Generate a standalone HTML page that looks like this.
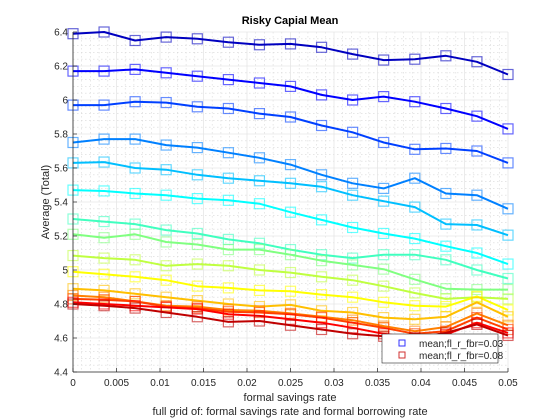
<!DOCTYPE html>
<html><head><meta charset="utf-8"><style>
body{margin:0;background:#fff;}
svg{display:block;font-family:"Liberation Sans",sans-serif;}
</style></head><body>
<svg id="chart" width="560" height="420" viewBox="0 0 560 420">
<rect x="0" y="0" width="560" height="420" fill="#fff"/>
<g id="grid"></g>
<g id="series"></g>
<g id="axes"></g>
<text x="290" y="24" text-anchor="middle" font-size="11" font-weight="bold" fill="#000">Risky Capial Mean</text>
<text x="290" y="401" text-anchor="middle" font-size="11" fill="#262626">formal savings rate</text>
<text x="290" y="415" text-anchor="middle" font-size="11" fill="#262626">full grid of: formal savings rate and formal borrowing rate</text>
<text x="49" y="202" text-anchor="middle" font-size="11" fill="#262626" transform="rotate(-90 49 202)">Average (Total)</text>
<g>
<rect x="382" y="334" width="116" height="29" fill="#fff" stroke="#262626" stroke-width="0.6"/>
<rect x="399" y="340" width="6" height="6" fill="none" stroke="#3333ff"/>
<text x="419" y="347" font-size="10" fill="#262626">mean;fl_r_fbr=0.03</text>
<rect x="399" y="352" width="6" height="6" fill="none" stroke="#d23232"/>
<text x="419" y="359" font-size="10" fill="#262626">mean;fl_r_fbr=0.08</text>
</g>
</svg>
<script>
const xValues=[0,0.00357,0.00714,0.01071,0.01429,0.01786,0.02143,0.025,0.02857,0.03214,0.03571,0.03929,0.04286,0.04643,0.05];
const s1=[6.39,6.40,6.35,6.37,6.36,6.34,6.325,6.33,6.31,6.27,6.235,6.24,6.26,6.225,6.15];
const s2=[6.17,6.17,6.18,6.16,6.14,6.12,6.10,6.08,6.03,6.00,6.02,5.99,5.95,5.905,5.83];
const s3=[5.97,5.97,5.99,5.985,5.96,5.95,5.92,5.90,5.85,5.81,5.75,5.71,5.715,5.70,5.63];
const s4=[5.75,5.77,5.77,5.735,5.72,5.69,5.66,5.62,5.56,5.51,5.48,5.54,5.45,5.44,5.36];
const s5=[5.63,5.635,5.60,5.59,5.56,5.54,5.525,5.51,5.49,5.44,5.405,5.37,5.27,5.265,5.205];
const s6=[5.47,5.465,5.45,5.44,5.42,5.41,5.39,5.34,5.295,5.25,5.215,5.185,5.14,5.10,5.035];
const s7=[5.30,5.285,5.27,5.235,5.215,5.18,5.157,5.12,5.09,5.07,5.09,5.09,5.06,5.00,4.95];
const s8=[5.21,5.19,5.21,5.165,5.15,5.12,5.12,5.09,5.055,5.03,5.005,4.945,4.89,4.885,4.885];
const s9=[5.085,5.07,5.06,5.025,5.035,5.025,5.0,4.985,4.96,4.94,4.905,4.865,4.83,4.84,4.83];
const s10=[4.99,4.975,4.96,4.94,4.905,4.895,4.88,4.875,4.855,4.84,4.81,4.79,4.785,4.845,4.765];
const s11=[4.89,4.88,4.86,4.84,4.82,4.80,4.785,4.795,4.76,4.75,4.72,4.71,4.725,4.81,4.725];
const s12=[4.85,4.84,4.815,4.79,4.785,4.765,4.76,4.745,4.725,4.705,4.67,4.64,4.665,4.745,4.675];
const s13=[4.83,4.825,4.815,4.785,4.775,4.755,4.75,4.74,4.72,4.69,4.66,4.625,4.64,4.72,4.65];
const s14=[4.81,4.80,4.79,4.78,4.77,4.74,4.73,4.71,4.69,4.66,4.625,4.60,4.62,4.69,4.63];
const s15=[4.80,4.79,4.776,4.75,4.725,4.695,4.70,4.675,4.65,4.625,4.61,4.60,4.63,4.68,4.615];
const xTicks=[0,0.005,0.01,0.015,0.02,0.025,0.03,0.035,0.04,0.045,0.05];
const xTickLabels=["0","0.005","0.01","0.015","0.02","0.025","0.03","0.035","0.04","0.045","0.05"];
const yTicks=[4.4,4.6,4.8,5,5.2,5.4,5.6,5.8,6,6.2,6.4];
const yTickLabels=["4.4","4.6","4.8","5","5.2","5.4","5.6","5.8","6","6.2","6.4"];

const allSeries=[s1,s2,s3,s4,s5,s6,s7,s8,s9,s10,s11,s12,s13,s14,s15];
const colors=["rgb(0,0,191)","rgb(0,0,255)","rgb(0,64,255)","rgb(0,128,255)","rgb(0,191,255)","rgb(0,255,255)","rgb(64,255,191)","rgb(128,255,128)","rgb(191,255,64)","rgb(255,255,0)","rgb(255,191,0)","rgb(255,128,0)","rgb(255,64,0)","rgb(255,0,0)","rgb(191,0,0)"];
const L=73,R=508,T=32,B=372,X0=0,X1=0.05,Y0=4.4,Y1=6.4;
function sx(v){return L+(v-X0)/(X1-X0)*(R-L);}
function sy(v){return B-(v-Y0)/(Y1-Y0)*(B-T);}
const NS="http://www.w3.org/2000/svg";
function mk(tag,attrs,parent){const e=document.createElementNS(NS,tag);for(const k in attrs)e.setAttribute(k,attrs[k]);parent.appendChild(e);return e;}
const grid=document.getElementById('grid'),axes=document.getElementById('axes'),series=document.getElementById('series');
for(let i=0;i<=50;i++){if(i%5===0)continue;const x=sx(i*0.001);
 const g=mk('line',{x1:x,x2:x,y1:T,y2:B,stroke:'#d8d8d8','stroke-width':0.6,'stroke-dasharray':'1.5 2.5'},grid);
 
 }
for(let i=0;i<=50;i++){if(i%5===0)continue;const y=sy(4.4+i*0.04);
 const g=mk('line',{x1:L,x2:R,y1:y,y2:y,stroke:'#d8d8d8','stroke-width':0.6,'stroke-dasharray':'1.5 2.5'},grid);
 
 }
xTicks.forEach((t,i)=>{const x=sx(t);
 const g=mk('line',{x1:x,x2:x,y1:T,y2:B,stroke:'#e6e6e6','stroke-width':0.8},grid);
 
 
 const tk=mk('line',{x1:x,x2:x,y1:B,y2:B-4,stroke:'#262626','stroke-width':0.7},axes);
 
 
 const tx=mk('text',{x:x,y:B+14,'text-anchor':'middle','font-size':10,fill:'#262626'},axes);
 tx.textContent=xTickLabels[i];
 
 });
yTicks.forEach((t,i)=>{const y=sy(t);
 const g=mk('line',{x1:L,x2:R,y1:y,y2:y,stroke:'#e6e6e6','stroke-width':0.8},grid);
 
 
 const tk=mk('line',{x1:L,x2:L+4,y1:y,y2:y,stroke:'#262626','stroke-width':0.7},axes);
 
 
 const tx=mk('text',{x:L-5,y:y+3.5,'text-anchor':'end','font-size':10,fill:'#262626'},axes);
 tx.textContent=yTickLabels[i];
 
 });
const xa=mk('line',{x1:L,x2:R,y1:B,y2:B,stroke:'#262626','stroke-width':0.8},axes);


const ya=mk('line',{x1:L,x2:L,y1:T,y2:B,stroke:'#262626','stroke-width':0.8},axes);


allSeries.forEach((s,k)=>{
 const g=mk('g',{},series);
 
 
 const pts=s.map((v,i)=>sx(xValues[i]).toFixed(1)+','+sy(v).toFixed(1)).join(' ');
 const pl=mk('polyline',{points:pts,fill:'none',stroke:colors[k],'stroke-width':2,'stroke-linejoin':'round'},g);
 
 
 s.forEach((v,i)=>{
  const m=mk('rect',{x:sx(xValues[i])-5,y:sy(v)-5,width:10,height:10,fill:'none',stroke:colors[k],'stroke-opacity':0.6,'stroke-width':1.2},g);
  
  
 });
});
</script>
</body></html>
